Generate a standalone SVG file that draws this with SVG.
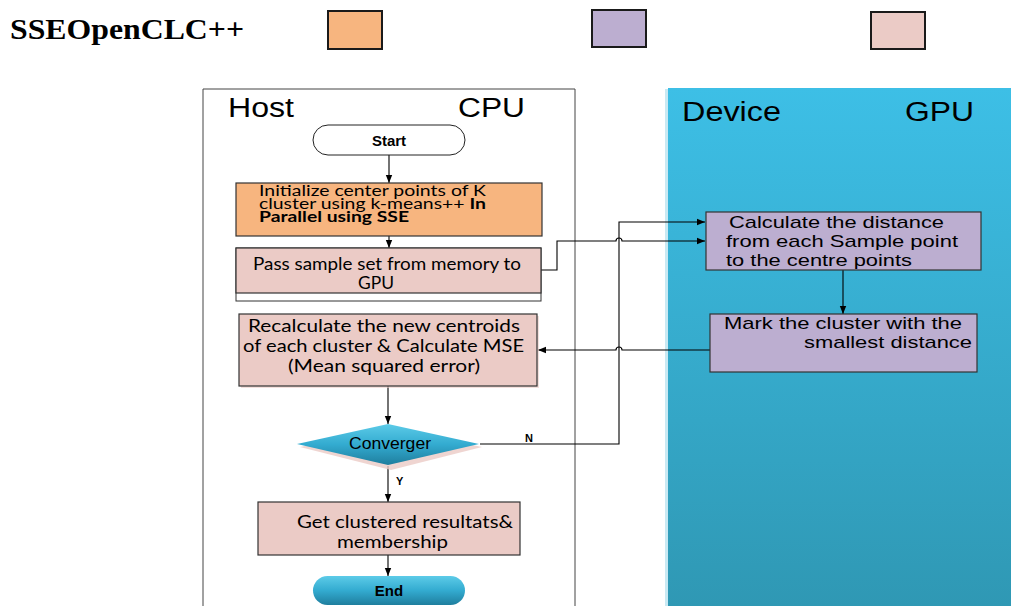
<svg xmlns="http://www.w3.org/2000/svg" width="1011" height="606" viewBox="0 0 1011 606">
  <defs>
    <linearGradient id="gpuPanel" x1="0" y1="0" x2="0" y2="1">
      <stop offset="0" stop-color="#3dbfe6"/>
      <stop offset="1" stop-color="#2f98b4"/>
    </linearGradient>
    <linearGradient id="blueShape" x1="0" y1="0" x2="0" y2="1">
      <stop offset="0" stop-color="#5ccbe8"/>
      <stop offset="0.5" stop-color="#33abd0"/>
      <stop offset="1" stop-color="#1f7e9e"/>
    </linearGradient>
    <marker id="arrow" viewBox="0 0 10 10" refX="10" refY="5" markerWidth="8" markerHeight="8" markerUnits="userSpaceOnUse" orient="auto">
      <path d="M0,1 L10,5 L0,9 z" fill="#000"/>
    </marker>
    <style>
      .lane { fill: #ffffff; stroke: #444; stroke-width: 1; }
      .box { stroke: #333; stroke-width: 1.2; }
      .orange { fill: #f7b57f; }
      .purple { fill: #bcaed0; }
      .pink { fill: #ebcbc6; }
      .legend { stroke: #1a1a1a; stroke-width: 2; }
      .conn { fill: none; stroke: #000; stroke-width: 1.1; }
      .lane-label { font-family: "Liberation Sans", Arial, sans-serif; font-size: 27px; fill: #000; }
      .cal { font-family: Lato, "Open Sans", sans-serif; font-size: 14.5px; fill: #000; }
      .cal-l { font-family: Lato, "Open Sans", sans-serif; font-size: 17px; fill: #000; }
      .ar { font-family: "Liberation Sans", Arial, sans-serif; font-size: 17px; fill: #000; }
      .bold { font-family: "Liberation Sans", Arial, sans-serif; font-weight: bold; fill: #000; }
    </style>
  </defs>

  <rect width="1011" height="606" fill="#ffffff"/>

  <!-- legend -->
  <g id="legend">
    <text x="10" y="39" font-family="Liberation Serif, serif" font-weight="bold" font-size="29" textLength="234" lengthAdjust="spacingAndGlyphs">SSEOpenCLC++</text>
    <rect class="legend orange" x="328" y="11" width="54" height="38"/>
    <rect class="legend purple" x="592" y="10" width="54" height="37"/>
    <rect class="legend pink" x="871" y="12" width="54" height="37"/>
  </g>

  <!-- swim lanes -->
  <g id="host-lane">
    <path class="lane" d="M203,606 L203,89 L575,89 L575,606"/>
    <text class="lane-label" x="228" y="117" textLength="66" lengthAdjust="spacingAndGlyphs">Host</text>
    <text class="lane-label" x="458" y="117" textLength="67" lengthAdjust="spacingAndGlyphs">CPU</text>
  </g>
  <g id="device-lane">
    <rect x="665" y="89" width="4" height="517" fill="#c9e9f3"/>
    <rect x="668" y="88" width="343" height="518" fill="url(#gpuPanel)"/>
    <text class="lane-label" x="682" y="121" textLength="99" lengthAdjust="spacingAndGlyphs">Device</text>
    <text class="lane-label" x="905" y="121" textLength="69" lengthAdjust="spacingAndGlyphs">GPU</text>
  </g>

  <!-- connectors -->
  <g id="connectors">
    <line class="conn" x1="389" y1="155" x2="389" y2="183" marker-end="url(#arrow)"/>
    <line class="conn" x1="389" y1="236" x2="389" y2="248" marker-end="url(#arrow)"/>
    <!-- sample set to GPU, hops over the loop line -->
    <path class="conn" d="M541,270 H557 V241 H616 a3,3 0 0 1 6,0 H705" marker-end="url(#arrow)"/>
    <!-- N branch back to the distance step -->
    <path class="conn" d="M480,444 H619 V222 H705" marker-end="url(#arrow)"/>
    <line class="conn" x1="843" y1="270" x2="843" y2="314" marker-end="url(#arrow)"/>
    <path class="conn" d="M710,350 H622 a3,3 0 0 0 -6,0 H538" marker-end="url(#arrow)"/>
    <line class="conn" x1="388" y1="386" x2="388" y2="424" marker-end="url(#arrow)"/>
    <line class="conn" x1="388" y1="466" x2="388" y2="502" marker-end="url(#arrow)"/>
    <line class="conn" x1="388" y1="555" x2="388" y2="576" marker-end="url(#arrow)"/>
    <text class="bold" x="525" y="442" font-size="11">N</text>
    <text class="bold" x="396" y="485" font-size="11">Y</text>
  </g>

  <g id="start">
    <rect x="313" y="125" width="152" height="30" rx="15" fill="#ffffff" stroke="#222" stroke-width="1"/>
    <text class="bold" x="389" y="146" font-size="15" text-anchor="middle">Start</text>
  </g>

  <g id="init-centers">
    <rect class="box orange" x="236" y="183" width="306" height="53"/>
    <text class="cal" x="259" y="196" textLength="227" lengthAdjust="spacingAndGlyphs">Initialize center points of K</text>
    <text class="cal" x="259" y="209" textLength="227" lengthAdjust="spacingAndGlyphs">cluster using k-means++ <tspan font-weight="bold">In</tspan></text>
    <text class="cal" x="259" y="222" font-weight="bold" textLength="150" lengthAdjust="spacingAndGlyphs">Parallel using SSE</text>
  </g>

  <g id="pass-samples">
    <rect x="236" y="248" width="305" height="53" fill="#ffffff" stroke="#333" stroke-width="1"/>
    <rect class="box pink" x="236" y="248" width="305" height="45"/>
    <text class="cal-l" x="253" y="270" textLength="268" lengthAdjust="spacingAndGlyphs">Pass sample set from memory to</text>
    <text class="cal-l" x="358" y="289" textLength="36" lengthAdjust="spacingAndGlyphs">GPU</text>
  </g>

  <g id="calc-distance">
    <rect class="box purple" x="706" y="212" width="275" height="58"/>
    <text class="ar" x="729" y="228" textLength="215" lengthAdjust="spacingAndGlyphs">Calculate the distance</text>
    <text class="ar" x="726" y="247" textLength="232" lengthAdjust="spacingAndGlyphs">from each Sample point</text>
    <text class="ar" x="726" y="266" textLength="186" lengthAdjust="spacingAndGlyphs">to the centre points</text>
  </g>

  <g id="mark-cluster">
    <rect class="box purple" x="710" y="314" width="267" height="58"/>
    <text class="ar" x="724" y="329" textLength="238" lengthAdjust="spacingAndGlyphs">Mark the cluster with the</text>
    <text class="ar" x="804" y="348" textLength="168" lengthAdjust="spacingAndGlyphs">smallest distance</text>
  </g>

  <g id="recalc-centroids">
    <rect x="241" y="316" width="298" height="72" fill="#ebcbc6" opacity="0.6"/>
    <rect class="box pink" x="239" y="314" width="298" height="72"/>
    <text class="cal-l" x="248" y="332" textLength="272" lengthAdjust="spacingAndGlyphs">Recalculate the new  centroids</text>
    <text class="cal-l" x="243" y="352" textLength="281" lengthAdjust="spacingAndGlyphs">of each cluster &amp; Calculate MSE</text>
    <text class="cal-l" x="288" y="372" textLength="192" lengthAdjust="spacingAndGlyphs">(Mean squared error)</text>
  </g>

  <g id="converge">
    <polygon points="300,447 391,428 482,447 391,470" fill="#ebcbc6" opacity="0.8"/>
    <polygon points="297,444 388,424 479,444 388,465" fill="url(#blueShape)"/>
    <text class="ar" x="349" y="449" font-size="14" textLength="82" lengthAdjust="spacingAndGlyphs">Converger</text>
  </g>

  <g id="get-results">
    <rect class="box pink" x="258" y="502" width="262" height="53"/>
    <text class="cal-l" x="297" y="528" textLength="216" lengthAdjust="spacingAndGlyphs">Get clustered resultats&amp;</text>
    <text class="cal-l" x="337" y="548" textLength="111" lengthAdjust="spacingAndGlyphs">membership</text>
  </g>

  <g id="end">
    <rect x="313" y="576" width="152" height="29" rx="14.5" fill="url(#blueShape)"/>
    <text class="bold" x="389" y="596" font-size="15" text-anchor="middle">End</text>
  </g>
</svg>
